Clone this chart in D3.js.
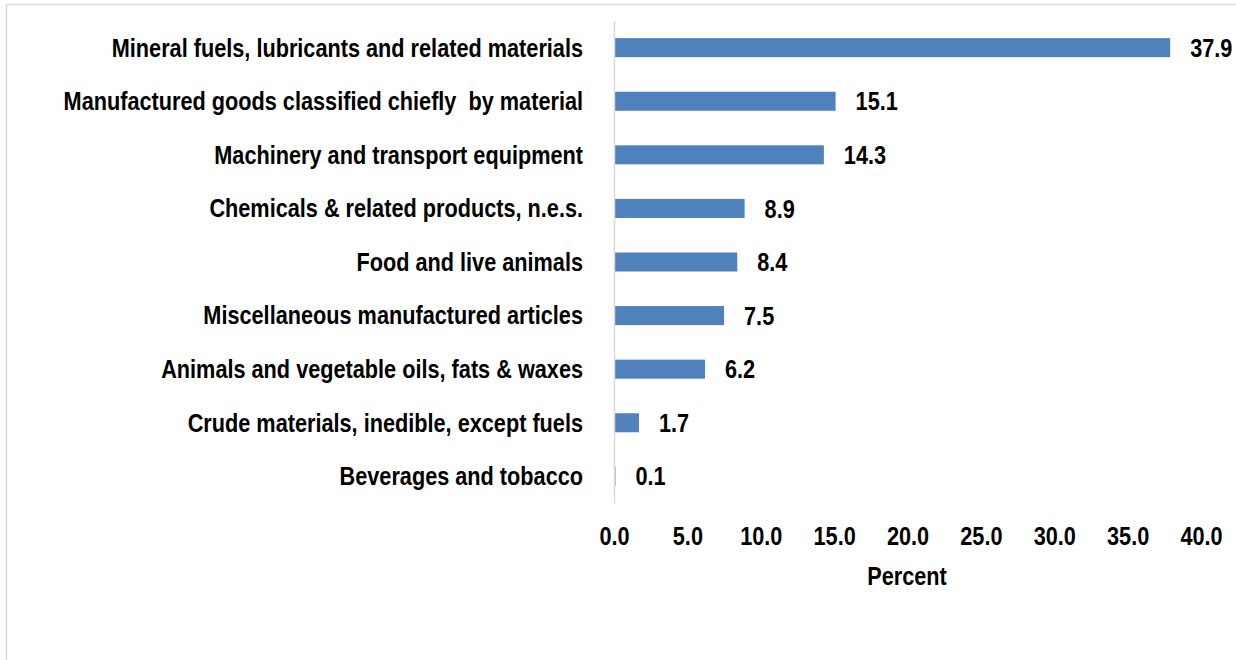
<!DOCTYPE html>
<html>
<head>
<meta charset="utf-8">
<script src="https://cdn.jsdelivr.net/npm/d3@7"></script>
<style>
  body { margin: 0; background: #fff; }
  svg text { font-family: "Liberation Sans", Arial, sans-serif; font-weight: bold; fill: #000; white-space: pre; }
</style>
</head>
<body>
<script>
// Data
let categories = [
  "Mineral fuels, lubricants and related materials",
  "Manufactured goods classified chiefly  by material",
  "Machinery and transport equipment",
  "Chemicals & related products, n.e.s.",
  "Food and live animals",
  "Miscellaneous manufactured articles",
  "Animals and vegetable oils, fats & waxes",
  "Crude materials, inedible, except fuels",
  "Beverages and tobacco"
];
let values = [37.9, 15.1, 14.3, 8.9, 8.4, 7.5, 6.2, 1.7, 0.1];
let xTicks = [0, 5, 10, 15, 20, 25, 30, 35, 40];
let xTitle = "Percent";

let W = 1236, H = 660;
let fontSize = "21.7px";
let stretch = "scale(1,1.2)";   // text in the original is tall and narrow

let svg = d3.select("body").append("svg")
    .attr("width", W)
    .attr("height", H);

// chart frame (top and left edge visible)
svg.append("line").attr("x1", 6.5).attr("x2", W).attr("y1", 4.5).attr("y2", 4.5)
    .attr("stroke", "#d9d9d9").attr("stroke-width", 1.5);
svg.append("line").attr("x1", 6.5).attr("x2", 6.5).attr("y1", 4.5).attr("y2", H)
    .attr("stroke", "#d9d9d9").attr("stroke-width", 1.5);

// Set the ranges
let x = d3.scaleLinear().domain([0, 40]).range([614, 1201]);
let y = d3.scaleBand().domain(categories).range([21, 503]).paddingInner(0.645).paddingOuter(0.32);

// bars
svg.selectAll("rect.bar")
    .data(values)
    .enter().append("rect")
      .attr("class", "bar")
      .attr("x", x(0))
      .attr("y", (d, i) => y(categories[i]))
      .attr("width", d => x(d) - x(0))
      .attr("height", y.bandwidth())
      .attr("fill", "#4f81bd");

// value labels
svg.selectAll("g.val")
    .data(values)
    .enter().append("g")
      .attr("class", "val")
      .attr("transform", (d, i) => "translate(" + (x(d) + 20) + "," + (y(categories[i]) + y.bandwidth() / 2) + ")")
    .append("text")
      .attr("transform", stretch)
      .attr("dy", "0.35em")
      .style("font-size", fontSize)
      .text(d => d.toFixed(1));

// y axis (category labels + vertical line)
let yAxis = d3.axisLeft(y).tickSize(0).tickPadding(31);
let gy = svg.append("g")
    .attr("transform", "translate(" + x(0) + ",0)")
    .call(yAxis);
gy.select(".domain").attr("stroke", "#d9d9d9").attr("stroke-width", 1.5);
gy.selectAll(".tick text")
    .attr("transform", stretch)
    .attr("dy", "0.34em")
    .style("font-size", fontSize)
    .style("font-family", "'Liberation Sans', Arial, sans-serif")
    .style("font-weight", "bold")
    .style("white-space", "pre")
    .attr("fill", "#000");

// x axis (labels only, no line)
let xAxis = d3.axisBottom(x).tickValues(xTicks).tickSize(0).tickFormat(d3.format(".1f"));
let gx = svg.append("g")
    .attr("transform", "translate(0,523)")
    .call(xAxis);
gx.select(".domain").remove();
gx.selectAll(".tick text")
    .attr("transform", stretch)
    .style("font-size", fontSize)
    .style("font-family", "'Liberation Sans', Arial, sans-serif")
    .style("font-weight", "bold")
    .attr("fill", "#000");

svg.append("g")      // text label for the x-axis
    .attr("transform", "translate(907,576)")
  .append("text")
    .attr("transform", stretch)
    .attr("dy", "0.35em")
    .style("text-anchor", "middle")
    .style("font-size", fontSize)
    .text(xTitle);
</script>
</body>
</html>
